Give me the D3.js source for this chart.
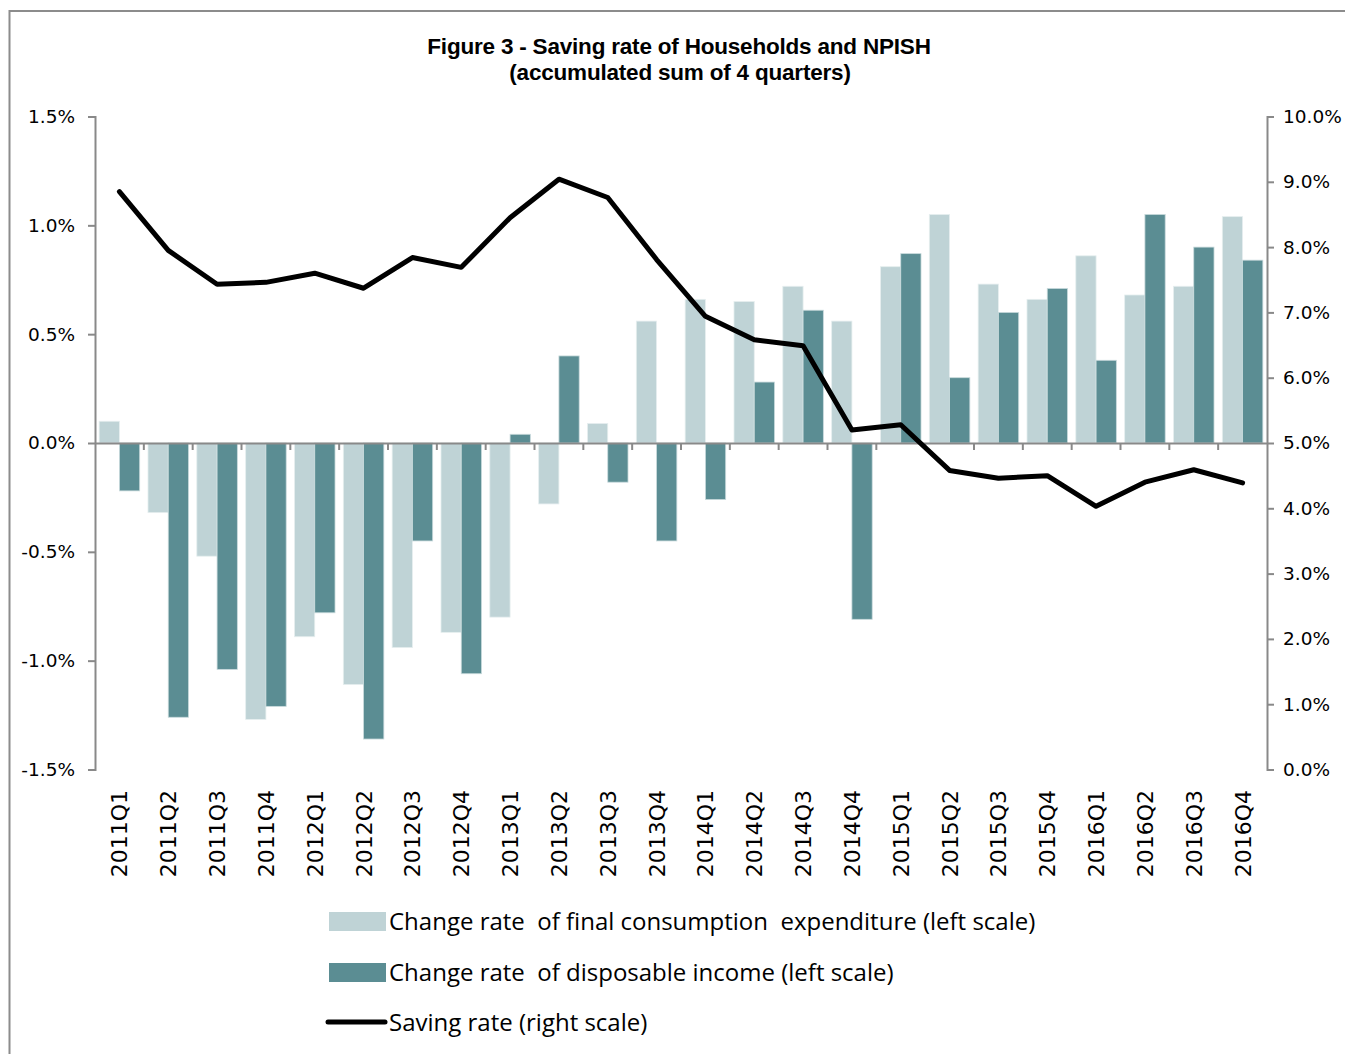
<!DOCTYPE html>
<html>
<head>
<meta charset="utf-8">
<script src="https://cdn.jsdelivr.net/npm/d3@7"></script>
<style>
  body { margin: 0; background: #fff; }
  svg { display: block; }
</style>
</head>
<body>
<div id="chart"></div>
<script>
// quarters on the x axis
const quarters = ["2011Q1","2011Q2","2011Q3","2011Q4","2012Q1","2012Q2","2012Q3","2012Q4",
                  "2013Q1","2013Q2","2013Q3","2013Q4","2014Q1","2014Q2","2014Q3","2014Q4",
                  "2015Q1","2015Q2","2015Q3","2015Q4","2016Q1","2016Q2","2016Q3","2016Q4"];

// change rate of final consumption expenditure (left scale, %)
const consumption = [0.10, -0.32, -0.52, -1.27, -0.89, -1.11, -0.94, -0.87,
                     -0.80, -0.28, 0.09, 0.56, 0.66, 0.65, 0.72, 0.56,
                     0.81, 1.05, 0.73, 0.66, 0.86, 0.68, 0.72, 1.04];

// change rate of disposable income (left scale, %)
const income = [-0.22, -1.26, -1.04, -1.21, -0.78, -1.36, -0.45, -1.06,
                0.04, 0.40, -0.18, -0.45, -0.26, 0.28, 0.61, -0.81,
                0.87, 0.30, 0.60, 0.71, 0.38, 1.05, 0.90, 0.84];

// saving rate (right scale, %)
const saving = [8.85, 7.95, 7.43, 7.46, 7.60, 7.37, 7.84, 7.69,
                8.45, 9.04, 8.76, 7.81, 6.94, 6.58, 6.49, 5.20,
                5.28, 4.58, 4.46, 4.50, 4.03, 4.40, 4.59, 4.39];

const leftTicks = [-1.5, -1.0, -0.5, 0.0, 0.5, 1.0, 1.5];
const rightTicks = [0, 1, 2, 3, 4, 5, 6, 7, 8, 9, 10];

const seriesNames = [
  "Change rate  of final consumption  expenditure (left scale)",
  "Change rate  of disposable income (left scale)",
  "Saving rate (right scale)"
];

const width = 1345, height = 1054;
const plot = { left: 95, right: 1267, top: 116.5, bottom: 769.5 };
const lightColor = "#bfd3d6", darkColor = "#5b8d93", axisColor = "#898989";

const svg = d3.select("#chart").append("svg")
    .attr("width", width)
    .attr("height", height);

// outer frame
svg.append("rect")
    .attr("x", 9.5).attr("y", 11)
    .attr("width", 1400).attr("height", 1100)
    .attr("fill", "none")
    .attr("stroke", "#8c8c8c")
    .attr("stroke-width", 2);

// title
const title = svg.append("text")
    .attr("text-anchor", "middle")
    .style("font-family", "'Liberation Sans', Arial, sans-serif")
    .style("font-weight", "bold")
    .style("font-size", "22.5px")
    .style("letter-spacing", "-0.2px")
    .attr("fill", "#000");
title.append("tspan").attr("x", 679).attr("y", 54).text("Figure 3 - Saving rate of Households and NPISH");
title.append("tspan").attr("x", 680).attr("y", 80).text("(accumulated sum of 4 quarters)");

const x0 = d3.scaleBand()
    .domain(quarters)
    .range([plot.left, plot.right])
    .paddingInner(0.17)
    .paddingOuter(0.085);

const x1 = d3.scaleBand()
    .domain(["consumption", "income"])
    .range([0, x0.bandwidth()]);

const yLeft = d3.scaleLinear().domain([-1.5, 1.5]).range([plot.bottom, plot.top]);
const yRight = d3.scaleLinear().domain([0, 10]).range([plot.bottom, plot.top]);

// bars
const groups = svg.append("g").selectAll("g")
    .data(quarters)
    .join("g")
    .attr("transform", d => `translate(${x0(d)},0)`);

groups.append("rect")
    .attr("x", x1("consumption"))
    .attr("width", x1.bandwidth())
    .attr("y", (d, i) => yLeft(Math.max(0, consumption[i])))
    .attr("height", (d, i) => Math.abs(yLeft(consumption[i]) - yLeft(0)))
    .attr("fill", lightColor)
    .attr("stroke", "#e6eeef")
    .attr("stroke-width", 0.8);

groups.append("rect")
    .attr("x", x1("income"))
    .attr("width", x1.bandwidth())
    .attr("y", (d, i) => yLeft(Math.max(0, income[i])))
    .attr("height", (d, i) => Math.abs(yLeft(income[i]) - yLeft(0)))
    .attr("fill", darkColor)
    .attr("stroke", "#c9dadc")
    .attr("stroke-width", 0.8);

// left axis
const leftAxis = svg.append("g")
    .attr("transform", `translate(${plot.left},0)`)
    .call(d3.axisLeft(yLeft).tickValues(leftTicks).tickSize(7).tickPadding(13)
        .tickFormat(d => d.toFixed(1) + "%"));

// right axis
const rightAxis = svg.append("g")
    .attr("transform", `translate(${plot.right},0)`)
    .call(d3.axisRight(yRight).tickValues(rightTicks).tickSize(7).tickPadding(9)
        .tickFormat(d => d.toFixed(1) + "%"));

[leftAxis, rightAxis].forEach(a => {
  a.select(".domain").attr("stroke", axisColor).attr("stroke-width", 2);
  a.selectAll(".tick line").attr("stroke", axisColor).attr("stroke-width", 2);
  a.selectAll(".tick text")
      .style("font-family", "'DejaVu Sans', Verdana, sans-serif")
      .style("font-size", "18.5px")
      .attr("fill", "#000");
});

// zero line with category boundary ticks
const zeroY = yLeft(0);
const xAxis = svg.append("g")
    .attr("transform", `translate(0,${zeroY})`)
    .call(d3.axisBottom(x0).tickSize(0).tickFormat(""));
xAxis.select(".domain").attr("stroke", axisColor).attr("stroke-width", 2);
xAxis.selectAll(".tick").remove();
xAxis.selectAll(".bound")
    .data(quarters.slice(1))
    .join("line")
    .attr("x1", d => x0(d) - x0.step() * x0.paddingInner() / 2)
    .attr("x2", d => x0(d) - x0.step() * x0.paddingInner() / 2)
    .attr("y1", 0).attr("y2", 7)
    .attr("stroke", axisColor)
    .attr("stroke-width", 2);

// category labels at the bottom, rotated
svg.append("g").selectAll("text")
    .data(quarters)
    .join("text")
    .attr("transform", d => `translate(${x0(d) + x0.bandwidth() / 2 + 8},790) rotate(-90)`)
    .attr("text-anchor", "end")
    .style("font-family", "'DejaVu Sans', Verdana, sans-serif")
    .style("font-size", "22px")
    .attr("fill", "#000")
    .text(d => d);

// saving rate line
const line = d3.line()
    .x((d, i) => x0(quarters[i]) + x0.bandwidth() / 2)
    .y(d => yRight(d));

svg.append("path")
    .datum(saving)
    .attr("d", line)
    .attr("fill", "none")
    .attr("stroke", "#000")
    .attr("stroke-width", 5)
    .attr("stroke-linejoin", "round")
    .attr("stroke-linecap", "round");

// legend
const legend = svg.append("g");
const legendRows = [
  { name: seriesNames[0], type: "rect", color: lightColor, y: 922 },
  { name: seriesNames[1], type: "rect", color: darkColor, y: 973 },
  { name: seriesNames[2], type: "line", color: "#000", y: 1023 }
];
legendRows.forEach(r => {
  if (r.type === "rect") {
    legend.append("rect")
        .attr("x", 329).attr("y", r.y - 10)
        .attr("width", 57).attr("height", 19)
        .attr("fill", r.color);
  } else {
    legend.append("line")
        .attr("x1", 328).attr("x2", 385)
        .attr("y1", r.y - 1).attr("y2", r.y - 1)
        .attr("stroke", r.color)
        .attr("stroke-width", 5)
        .attr("stroke-linecap", "round");
  }
  legend.append("text")
      .attr("x", 389)
      .attr("y", r.y + 8)
      .style("font-family", "'Liberation Sans Narrow', 'Open Sans', sans-serif")
      .style("font-size", "24px")
      .style("white-space", "pre")
      .attr("fill", "#000")
      .text(r.name);
});
</script>
</body>
</html>
